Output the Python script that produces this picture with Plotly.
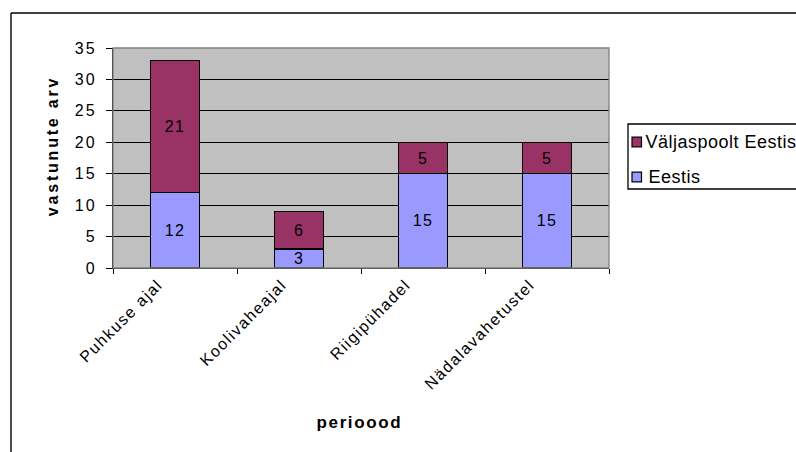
import plotly.graph_objects as go

categories = ["Puhkuse ajal", "Koolivaheajal", "Riigipühadel", "Nädalavahetustel"]
eestis = [12, 3, 15, 15]
valjaspoolt = [21, 6, 5, 5]
series_names = ["Eestis", "Väljaspoolt Eestis"]
series_colors = ["#9999FF", "#993366"]
y_title = "vastunute arv"
x_title = "perioood"

W, H = 796, 452
L, R, T, B = 113, 609, 48, 268
FONT = "Liberation Sans"

fig = go.Figure()
for name, vals, col in [(series_names[0], eestis, series_colors[0]),
                        (series_names[1], valjaspoolt, series_colors[1])]:
    fig.add_trace(go.Bar(
        x=categories, y=vals, name=name,
        marker=dict(color=col, line=dict(color="black", width=1.3)),
        text=[str(v) for v in vals], textposition="inside", insidetextanchor="middle",
        textangle=0, textfont=dict(color="black", size=16, family=FONT),
        constraintext="none", showlegend=False,
    ))

pw = R - L
ph = B - T
def px(x):
    return (x - L) / pw
def py(y):
    return (B - y) / ph

shapes = [
    dict(type="rect", xref="paper", yref="paper", x0=0, x1=1, y0=0, y1=1,
         line=dict(color="#808080", width=1.3), layer="above"),
    dict(type="line", xref="paper", yref="paper", x0=px(11), x1=px(11),
         y0=py(13), y1=py(470), line=dict(color="black", width=1.4)),
    dict(type="line", xref="paper", yref="paper", x0=px(11), x1=px(810),
         y0=py(13), y1=py(13), line=dict(color="black", width=1.4)),
    # legend box
    dict(type="rect", xref="paper", yref="paper", x0=px(628), x1=px(820),
         y0=py(189), y1=py(124), line=dict(color="black", width=1.3),
         fillcolor="white"),
]
annotations = [
    dict(text="<b>" + y_title + "</b>", xref="paper", yref="paper",
         x=px(52), y=py(146), textangle=-90, showarrow=False,
         font=dict(size=16), xanchor="center", yanchor="middle"),
    dict(text="<b>" + x_title + "</b>", xref="paper", yref="paper",
         x=px(359), y=py(422), showarrow=False,
         font=dict(size=17), xanchor="center", yanchor="middle"),
]
# legend entries (top: last series)
legend_rows = [(series_names[1], series_colors[1], 142), (series_names[0], series_colors[0], 177)]
for name, col, yc in legend_rows:
    shapes.append(dict(type="rect", xref="paper", yref="paper",
                       x0=px(632), x1=px(641.5), y0=py(yc + 4.8), y1=py(yc - 4.8),
                       line=dict(color="black", width=1.2), fillcolor=col))
    annotations.append(dict(text=name, xref="paper", yref="paper",
                            x=px(648), y=py(yc), xanchor="left", yanchor="middle",
                            showarrow=False, font=dict(size=18)))

fig.update_layout(
    width=W, height=H,
    margin=dict(l=L, r=W - R, t=T, b=H - B, autoexpand=False),
    barmode="stack", bargap=0.61,
    plot_bgcolor="#C0C0C0", paper_bgcolor="white",
    font=dict(family=FONT, size=16, color="black"),
    showlegend=False,
    xaxis=dict(
        type="category", tickangle=-45, tickson="boundaries",
        ticks="outside", ticklen=5, tickcolor="black", tickwidth=1.3,
        ticklabelshift=-17,
        showline=True, linecolor="black", linewidth=1.3,
        showgrid=False, tickfont=dict(size=16),
    ),
    yaxis=dict(
        range=[0, 35], dtick=5, ticks="outside", ticklen=6, tickcolor="black",
        tickwidth=1.3, ticklabelstandoff=6,
        showline=True, linecolor="black", linewidth=1.3,
        showgrid=True, gridcolor="black", gridwidth=1,
        zeroline=False, tickfont=dict(size=16),
    ),
    shapes=shapes,
    annotations=annotations,
)

css = (".ytick text{letter-spacing:2px}"
       ".xtick text{letter-spacing:1.5px}"
       ".bartext{letter-spacing:1.2px}"
       "g.annotation[data-index='0'] text{letter-spacing:2.8px}"
       "g.annotation[data-index='1'] text{letter-spacing:1.6px}"
       "g.annotation[data-index='2'] text,g.annotation[data-index='3'] text{letter-spacing:0.5px}")
post = ("var s=document.createElement('style');s.textContent=\"" + css +
        "\";document.head.appendChild(s);")

fig.write_html("out.html", post_script=post)
